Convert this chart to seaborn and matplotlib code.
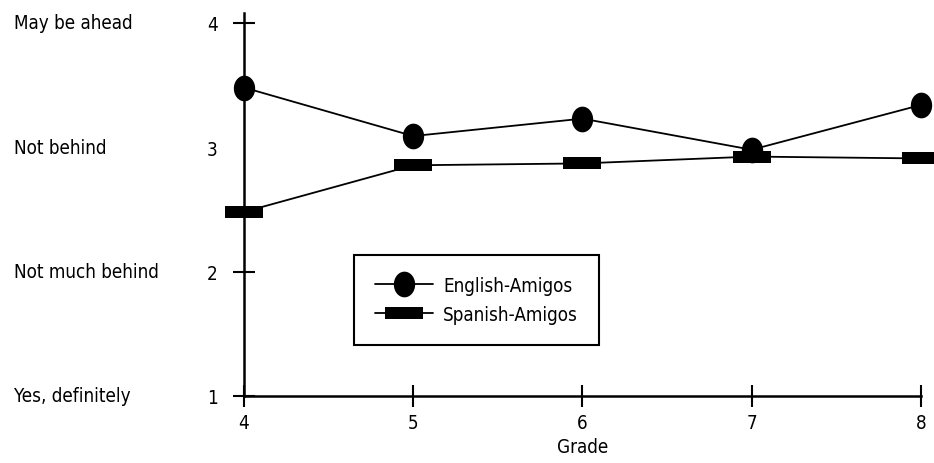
import numpy as np
import pandas as pd
import matplotlib
matplotlib.use("Agg")
import matplotlib.pyplot as plt
import matplotlib.transforms as mtrans
from matplotlib.path import Path
import seaborn as sns

grades = [4, 5, 6, 7, 8]
english = [3.48, 3.09, 3.23, 2.98, 3.34]
spanish = [2.48, 2.855, 2.87, 2.925, 2.91]
series_names = ["English-Amigos", "Spanish-Amigos"]
ytick_vals = [1, 2, 3, 4]
ytick_words = ["Yes, definitely", "Not much behind", "Not behind", "May be ahead"]

sns.set_theme(style="white")
plt.rcParams['font.family'] = ['DejaVu Sans']
plt.rcParams['font.stretch'] = 'condensed'
plt.rcParams['text.color'] = 'black'
plt.rcParams['axes.labelcolor'] = 'black'
plt.rcParams['xtick.color'] = 'black'
plt.rcParams['ytick.color'] = 'black'

df = pd.DataFrame({
    "Grade": grades * 2,
    "Score": english + spanish,
    "Group": [series_names[0]] * len(grades) + [series_names[1]] * len(grades),
})

# custom markers
t = np.linspace(0, 2 * np.pi, 60)
ellipse = Path(np.column_stack([0.83 * np.cos(t), np.sin(t)]), closed=True)
rect = Path([(-1, -0.33), (1, -0.33), (1, 0.33), (-1, 0.33), (-1, -0.33)], closed=True)

fig = plt.figure(figsize=(9.34, 4.64), dpi=100)
ax = fig.add_axes([0.2612, 0.1444, 0.986 - 0.2612, 0.970 - 0.1444])

marker_specs = {series_names[0]: (ellipse, 18.5), series_names[1]: (rect, 27)}
for name in series_names:
    m, ms = marker_specs[name]
    sns.lineplot(data=df[df["Group"] == name], x="Grade", y="Score", ax=ax,
                 color="black", lw=1.3, marker=m, markersize=ms,
                 markeredgewidth=0, label=name, clip_on=False, zorder=3)

fs = 13.5
ax.set_xlim(4, 8)
ax.set_ylim(1, 4.08)
ax.set_xticks(grades)
ax.set_xticklabels([str(g) for g in grades], fontsize=fs)
ax.set_yticks(ytick_vals)
ax.set_yticklabels([str(v) for v in ytick_vals], fontsize=fs)
ax.tick_params(axis='both', direction='inout', length=16, width=1.5, color='black',
               bottom=True, left=True)
ax.tick_params(axis='y', pad=11)
ax.tick_params(axis='x', pad=4)
ax.yaxis.get_major_ticks()[2].tick1line.set_visible(False)
ax.set_xlabel("Grade", fontsize=fs, labelpad=4)
ax.set_ylabel("")

for s in ["top", "right"]:
    ax.spines[s].set_visible(False)
for s in ["left", "bottom"]:
    ax.spines[s].set_color("black")
    ax.spines[s].set_linewidth(1.8)

blend = mtrans.blended_transform_factory(fig.transFigure, ax.transData)
for v, w in zip(ytick_vals, ytick_words):
    ax.text(14 / 934, v, w, transform=blend, ha="left", va="center", fontsize=fs)

leg = ax.legend(loc="upper left", bbox_to_anchor=((354 - 244) / 677, (397 - 256) / 383),
                borderaxespad=0, frameon=True, fancybox=False, fontsize=fs, framealpha=1,
                handlelength=3.1, borderpad=1.1, labelspacing=0.55, handletextpad=0.55)
leg.get_frame().set_edgecolor("black")
leg.get_frame().set_linewidth(1.5)

fig.savefig("out.png", dpi=100)
